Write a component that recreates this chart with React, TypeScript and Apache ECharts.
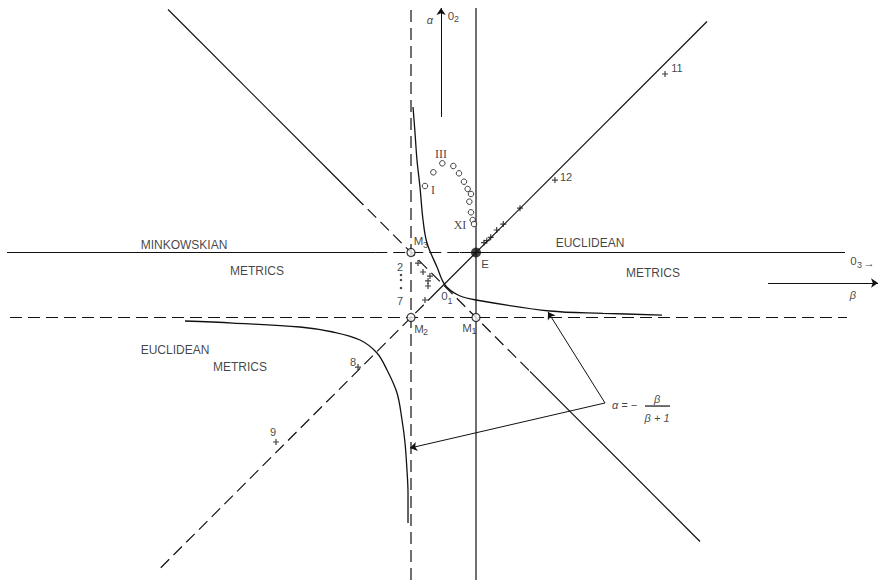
import React, { useEffect, useRef } from "react";
import * as echarts from "echarts";

type P = [number, number];

// Diagram coordinates: beta (horizontal) and alpha (vertical), E at (0,0)
const UPPER_BRANCH: P[] = [
  [-0.969, 2.238], [-0.938, 1.838], [-0.908, 1.423], [-0.862, 1.008], [-0.815, 0.5],
  [-0.754, 0.146], [-0.6, -0.223], [-0.477, -0.5], [-0.277, -0.654], [0, -0.731],
  [1.138, -0.9], [1.954, -0.935], [2.862, -0.962],
];
const LOWER_BRANCH: P[] = [
  [-4.477, -1.054], [-3.738, -1.085], [-2.708, -1.146], [-2.2, -1.223], [-1.785, -1.346],
  [-1.523, -1.546], [-1.369, -1.808], [-1.215, -2.162], [-1.138, -2.577], [-1.092, -2.931],
  [-1.062, -3.346], [-1.046, -3.7], [-1.046, -4.162],
];
const OPEN_CIRCLES: P[] = [
  [-0.785, 1.023], [-0.656, 1.234], [-0.518, 1.372], [-0.349, 1.331], [-0.262, 1.218],
  [-0.185, 1.089], [-0.128, 0.977], [-0.077, 0.9], [-0.103, 0.782], [-0.077, 0.618],
  [-0.051, 0.5], [-0.031, 0.438],
];
const PLUS_MARKS: P[] = [
  [0.123, 0.151], [0.165, 0.182], [0.226, 0.234], [0.318, 0.346], [0.42, 0.438], [0.677, 0.682],
  [1.215, 1.115], [2.908, 2.746],
  [-0.892, -0.162], [-0.815, -0.3], [-0.708, -0.362], [-0.738, -0.438], [-0.738, -0.515], [-0.785, -0.731],
  [-1.815, -1.762], [-3.077, -2.915],
];
const SEQUENCE_DOTS: P[] = [[-1.154, -0.346], [-1.154, -0.423], [-1.154, -0.546]];
const M_POINTS: P[] = [[-1, 0], [-1, -1], [0, -1]];
const E_POINT: P[] = [[0, 0]];

const SOLID_SEGMENTS: P[][] = [
  [[-7.215, 0], [-1.55, 0]],
  [[-0.25, 0], [5.677, 0]],
  [[0, 3.762], [0, -5.04]],
  [[-4.738, 3.738], [-1.862, 0.862]],
  [[0.83, -1.83], [3.446, -4.446]],
  [[-0.7, -0.7], [3.554, 3.554]],
  [[2.6, -2.362], [2.985, -2.362]],
];
const DASHED_SEGMENTS: P[][] = [
  [[-1.55, 0], [-0.25, 0]],
  [[-7.169, -1], [5.708, -1]],
  [[-1, 3.73], [-1, -5.04]],
  [[-1.862, 0.862], [0.83, -1.83]],
  [[-4.85, -4.85], [-0.7, -0.7]],
];
const ARROWS: P[][] = [
  [[-0.538, 2.085], [-0.538, 3.762]],
  [[4.492, -0.469], [6.185, -0.469]],
  [[1.985, -2.315], [1.108, -0.915]],
  [[1.985, -2.315], [-1.015, -3.008]],
];
// [beta, alpha, text, style]
const LABELS: [number, number, string, string][] = [
  [-4.492, 0.115, "MINKOWSKIAN", "cap"],
  [-3.369, -0.285, "METRICS", "cap"],
  [-4.631, -1.5, "EUCLIDEAN", "cap"],
  [-3.631, -1.762, "METRICS", "cap"],
  [1.754, 0.146, "EUCLIDEAN", "cap"],
  [2.723, -0.315, "METRICS", "cap"],
  [-0.885, 0.177, "M", "sym"], [-0.777, 0.123, "3", "sub"],
  [-0.877, -1.177, "M", "sym"], [-0.777, -1.223, "2", "sub"],
  [-0.138, -1.154, "M", "sym"], [-0.031, -1.215, "1", "sub"],
  [-0.485, -0.669, "0", "sym"], [-0.4, -0.746, "1", "sub"],
  [-0.385, 3.631, "0", "sym"], [-0.3, 3.585, "2", "sub"],
  [5.808, -0.138, "0", "sym"], [5.9, -0.192, "3", "sub"], [6.046, -0.162, "→", "sym"],
  [0.138, -0.177, "E", "sym"],
  [-0.708, 3.577, "α", "greek"],
  [5.8, -0.654, "β", "greek"],
  [-0.538, 1.515, "III", "roman"],
  [-0.662, 0.962, "I", "roman"],
  [-0.246, 0.423, "XI", "roman"],
  [1.385, 1.162, "12", "num"],
  [3.092, 2.838, "11", "num"],
  [-1.892, -1.685, "8", "num"],
  [-3.123, -2.762, "9", "num"],
  [-1.169, -0.217, "2", "num"],
  [-1.169, -0.746, "7", "num"],
  [2.285, -2.346, "α = −", "formula"],
  [2.785, -2.254, "β", "formula"],
  [2.785, -2.546, "β + 1", "formula"],
];

const INK = "#111";
const UNIT = 65;
const ORIGIN_X = 476;
const ORIGIN_Y = 252.5;
const W = 882;
const H = 580;

const BASE_TEXT = { color: INK, textBorderWidth: 0, textBorderColor: "transparent", textShadowBlur: 0 };
const LABEL_STYLES: Record<string, any> = {
  cap: { ...BASE_TEXT, fontFamily: "Liberation Sans", fontSize: 12 },
  sym: { ...BASE_TEXT, fontFamily: "Liberation Sans", fontSize: 11.5 },
  sub: { ...BASE_TEXT, fontFamily: "Liberation Sans", fontSize: 9 },
  num: { ...BASE_TEXT, fontFamily: "Liberation Sans", fontSize: 11 },
  roman: { ...BASE_TEXT, fontFamily: "Liberation Serif", fontSize: 12 },
  greek: { ...BASE_TEXT, fontFamily: "Liberation Sans", fontSize: 11, fontStyle: "italic" },
  formula: { ...BASE_TEXT, fontFamily: "Liberation Sans", fontSize: 11, fontStyle: "italic" },
};

const PLUS_PATH = "path://M2,0h1v2h2v1h-2v2h-1v-2h-2v-1h2z";

export default function App() {
  const ref = useRef<HTMLDivElement>(null);
  useEffect(() => {
    if (!ref.current) return;
    const chart = echarts.init(ref.current, null, { renderer: "svg" });
    const segment = (pts: P[], dashed: boolean) => ({
      type: "line",
      data: pts,
      symbol: "none",
      silent: true,
      z: 2,
      lineStyle: { color: INK, width: 1.2, type: dashed ? [12, 6] : "solid" },
    });
    const curve = (pts: P[]) => ({
      type: "line",
      data: pts,
      symbol: "none",
      smooth: 0.35,
      silent: true,
      z: 3,
      lineStyle: { color: INK, width: 1.3 },
    });
    const option: any = {
      animation: false,
      backgroundColor: "#fff",
      grid: { left: 0, right: 0, top: 0, bottom: 0 },
      xAxis: {
        type: "value",
        min: -ORIGIN_X / UNIT,
        max: (W - ORIGIN_X) / UNIT,
        show: false,
      },
      yAxis: {
        type: "value",
        min: -(H - ORIGIN_Y) / UNIT,
        max: ORIGIN_Y / UNIT,
        show: false,
      },
      series: [
        ...SOLID_SEGMENTS.map((s) => segment(s, false)),
        ...DASHED_SEGMENTS.map((s) => segment(s, true)),
        curve(UPPER_BRANCH),
        curve(LOWER_BRANCH),
        {
          type: "lines",
          coordinateSystem: "cartesian2d",
          symbol: ["none", "arrow"],
          symbolSize: [0, 7],
          silent: true,
          z: 3,
          lineStyle: { color: INK, width: 1, opacity: 1, curveness: 0 },
          data: ARROWS.map((a) => ({ coords: a })),
        },
        {
          type: "scatter",
          data: OPEN_CIRCLES,
          symbol: "circle",
          symbolSize: 5.5,
          silent: true,
          z: 5,
          itemStyle: { color: "#fff", borderColor: INK, borderWidth: 1 },
        },
        {
          type: "scatter",
          data: M_POINTS,
          symbol: "circle",
          symbolSize: 8,
          silent: true,
          z: 5,
          itemStyle: { color: "#fff", borderColor: INK, borderWidth: 1.3 },
        },
        {
          type: "scatter",
          data: E_POINT,
          symbol: "circle",
          symbolSize: 10,
          silent: true,
          z: 5,
          itemStyle: { color: INK },
        },
        {
          type: "scatter",
          data: PLUS_MARKS,
          symbol: PLUS_PATH,
          symbolSize: 6,
          silent: true,
          z: 5,
          itemStyle: { color: INK },
        },
        {
          type: "scatter",
          data: SEQUENCE_DOTS,
          symbol: "circle",
          symbolSize: 2.5,
          silent: true,
          z: 5,
          itemStyle: { color: INK },
        },
        {
          type: "scatter",
          symbol: "circle",
          symbolSize: 1,
          silent: true,
          z: 10,
          itemStyle: { color: "rgba(255,255,255,0)" },
          data: LABELS.map(([b, a, t, s]) => ({
            value: [b, a],
            name: t,
            itemStyle: { color: "rgba(255,255,255,0)" },
            label: { show: true, position: "inside", formatter: t, ...LABEL_STYLES[s] },
          })),
        },
      ],
    };
    chart.setOption(option);
    return () => chart.dispose();
  }, []);
  return (
    <div
      ref={ref}
      style={{ position: "absolute", left: 0, top: 0, width: W, height: H, background: "#fff" }}
    />
  );
}
